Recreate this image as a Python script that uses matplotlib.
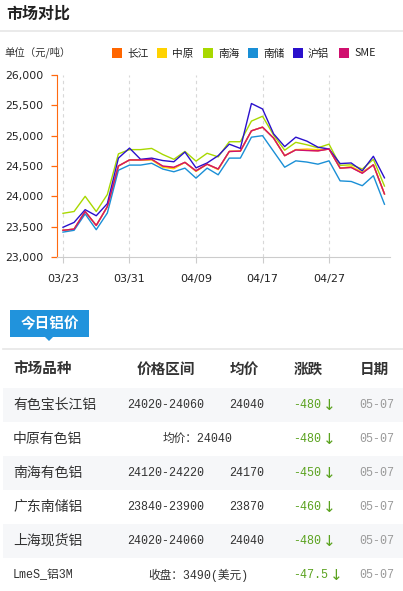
import matplotlib
matplotlib.use("Agg")
import matplotlib.pyplot as plt
from matplotlib.patches import Rectangle, Polygon

plt.rcParams['font.family'] = ['DejaVu Sans', 'Noto Sans CJK SC']

# trading days shown on the chart
dates = ['03/23', '03/24', '03/25', '03/26', '03/27', '03/30', '03/31',
         '04/01', '04/02', '04/03', '04/07', '04/08', '04/09', '04/10',
         '04/13', '04/14', '04/15', '04/16', '04/17', '04/20', '04/21',
         '04/22', '04/23', '04/24', '04/27', '04/28', '04/29', '04/30',
         '05/06', '05/07']

changjiang = [23440, 23460, 23750, 23520, 23830, 24500, 24600, 24600, 24610, 24490,
              24470, 24560, 24420, 24530, 24450, 24740, 24745, 25080, 25140, 24960,
              24670, 24770, 24760, 24750, 24780, 24465, 24480, 24385, 24520, 24040]
zhongyuan = [23440, 23460, 23750, 23520, 23830, 24500, 24600, 24600, 24600, 24480,
             24455, 24560, 24410, 24530, 24440, 24740, 24745, 25080, 25140, 24960,
             24670, 24770, 24780, 24770, 24780, 24465, 24490, 24400, 24520, 24040]
nanhai = [23720, 23750, 24000, 23750, 24030, 24700, 24770, 24770, 24790, 24690,
          24610, 24740, 24580, 24710, 24650, 24900, 24900, 25240, 25320, 25010,
          24760, 24890, 24850, 24800, 24860, 24510, 24520, 24450, 24610, 24170]
nanchu = [23410, 23440, 23710, 23450, 23725, 24430, 24515, 24515, 24545, 24450,
          24405, 24465, 24300, 24465, 24355, 24630, 24630, 24975, 25000, 24740,
          24480, 24585, 24565, 24530, 24585, 24255, 24245, 24175, 24340, 23870]
hulv = [23490, 23570, 23780, 23680, 23880, 24630, 24795, 24610, 24630, 24590,
        24570, 24730, 24470, 24550, 24670, 24860, 24790, 25530, 25440, 25030,
        24820, 24975, 24910, 24810, 24780, 24540, 24550, 24420, 24660, 24305]
sme = [23440, 23460, 23750, 23520, 23830, 24500, 24600, 24600, 24610, 24500,
       24480, 24560, 24420, 24530, 24450, 24740, 24745, 25080, 25140, 24960,
       24670, 24765, 24755, 24750, 24780, 24465, 24475, 24380, 24520, 24040]

series_names = ['长江', '中原', '南海', '南储', '沪铝', 'SME']
series_vals = [changjiang, zhongyuan, nanhai, nanchu, hulv, sme]
series_cols = ['#ff6600', '#ffd200', '#a8d800', '#1a8fd6', '#2a10cc', '#d0106e']

# today's price table
markets = ['有色宝长江铝', '中原有色铝', '南海有色铝', '广东南储铝', '上海现货铝', 'LmeS_铝3M']
ranges = ['24020-24060', '', '24120-24220', '23840-23900', '24020-24060', '']
avgs = ['24040', '', '24170', '23870', '24040', '']
merged = ['', '均价：24040', '', '', '', '收盘：3490(美元)']
changes = ['-480', '-480', '-450', '-460', '-480', '-47.5']
days = ['05-07', '05-07', '05-07', '05-07', '05-07', '05-07']
headers = ['市场品种', '价格区间', '均价', '涨跌', '日期']

cjk = 'Noto Sans CJK SC'
mono = ['Liberation Mono', 'Noto Sans CJK SC', 'DejaVu Sans']

fig = plt.figure(figsize=(4.03, 5.91), dpi=100)
fig.patch.set_facecolor('white')

# pixel-space canvas for the page parts
bg = fig.add_axes([0, 0, 1, 1])
bg.set_xlim(0, 403)
bg.set_ylim(591, 0)
bg.axis('off')

bg.text(6, 14, '市场对比', family=cjk, fontsize=11.5, fontweight='bold',
        color='#222222', va='center', ha='left')
bg.plot([0, 403], [31, 31], color='#e6e6e6', lw=1.2)
bg.text(4, 52, '单位（元/吨）', family=cjk, fontsize=7.5, color='#333333',
        va='center', ha='left')

# legend
leg_x = [112, 157, 203, 248, 293, 339]
for i, (name, col) in enumerate(zip(series_names, series_cols)):
    bg.add_patch(Rectangle((leg_x[i], 48), 10, 10, color=col, lw=0))
    bg.text(leg_x[i] + 15, 53.5, name, family=[cjk, 'DejaVu Sans'],
            fontsize=7.7, color='#222222', va='center', ha='left')

# table tab
bg.add_patch(Rectangle((10, 310), 79, 27, color='#2193dc', lw=0))
bg.add_patch(Polygon([[45, 337], [53, 337], [49, 341]], closed=True,
                     color='#2193dc', lw=0))
bg.text(49.5, 323.5, '今日铝价', family=cjk, fontsize=10.5, fontweight='bold',
        color='white', va='center', ha='center')
bg.plot([3, 403], [349, 349], color='#e6e6e6', lw=1.2)

head_x = [13, 166, 244, 308, 374]
head_ha = ['left', 'center', 'center', 'center', 'center']
for hx, ha, h in zip(head_x, head_ha, headers):
    bg.text(hx, 369, h, family=cjk, fontsize=10.5, fontweight='bold',
            color='#333333', va='center', ha=ha)

row_y0 = 388
row_h = 34
for i in range(len(markets)):
    top = row_y0 + i * row_h
    yc = top + row_h / 2
    if i % 2 == 0:
        bg.add_patch(Rectangle((3, top), 400, row_h, color='#f6f7f9', lw=0))
    bg.text(13, yc, markets[i], family=mono if i == 5 else cjk,
            fontsize=10 if i < 5 else 8.5, color='#333333', va='center', ha='left')
    if merged[i]:
        bg.text(198, yc, merged[i], family=mono, fontsize=8.4,
                color='#333333', va='center', ha='center')
    else:
        bg.text(165.5, yc, ranges[i], family=mono, fontsize=8.4,
                color='#333333', va='center', ha='center')
        bg.text(246.5, yc, avgs[i], family=mono, fontsize=8.4,
                color='#333333', va='center', ha='center')
    bg.text(293, yc, changes[i], family=mono, fontsize=8.4,
            color='#5aa21e', va='center', ha='left')
    # down arrow right after the change value
    ax_arrow = 293 + len(changes[i]) * 7.0 + 8
    bg.text(ax_arrow, yc + 1, '↓', family='DejaVu Sans', fontsize=11,
            color='#5aa21e', va='center', ha='center')
    bg.text(377, yc, days[i], family=mono, fontsize=8.4,
            color='#999999', va='center', ha='center')

# line chart
ax = fig.add_axes([57 / 403, 1 - 257 / 591, 333 / 403, 182 / 591])
ax.set_facecolor('none')
x = list(range(len(dates)))
for name, vals, col in zip(series_names, series_vals, series_cols):
    ax.plot(x, vals, color=col, lw=1.0, label=name)

ax.set_xlim(-0.54, 29.5)
ax.set_ylim(23000, 26000)
ax.set_yticks(range(23000, 26001, 500))
ax.set_yticklabels([f'{v:,}' for v in range(23000, 26001, 500)])
tick_idx = list(range(0, len(dates), 6))
ax.set_xticks(tick_idx)
ax.set_xticklabels([dates[i] for i in tick_idx])
ax.xaxis.grid(True, color='#d8d8d8', linestyle=(0, (3, 3)), lw=0.8)
ax.yaxis.grid(False)
ax.spines['top'].set_visible(False)
ax.spines['right'].set_visible(False)
ax.spines['left'].set_color('#ff6a10')
ax.spines['bottom'].set_color('#cccccc')
ax.tick_params(axis='y', colors='#ff6a10', length=4.5, width=0.9, pad=5,
               labelsize=7.8, labelcolor='#222222')
ax.tick_params(axis='x', colors='#cccccc', length=4, width=0.8, pad=8,
               labelsize=8, labelcolor='#222222')

fig.savefig('out.png', dpi=100, facecolor='white')
